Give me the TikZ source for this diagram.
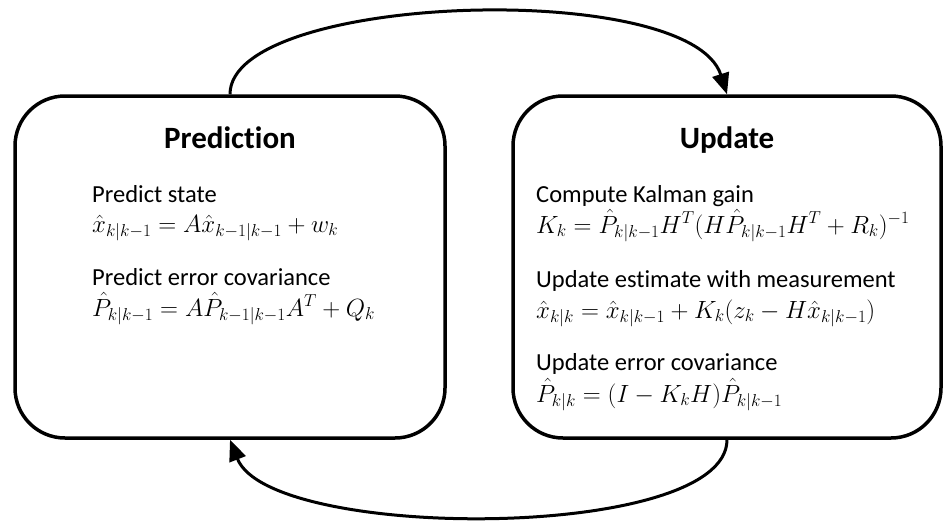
\documentclass[tikz,border=0pt]{standalone}
\usepackage{fontspec}
\setmainfont[Ligatures=NoCommon]{Carlito}
\usetikzlibrary{arrows.meta}
\begin{document}
\begin{tikzpicture}[x=1pt,y=-1pt,
  box/.style={draw, line width=3.5pt, rounded corners=50pt, minimum width=430pt, minimum height=342pt, inner sep=0pt},
  titletext/.style={font=\fontsize{31}{37}\selectfont\bfseries, anchor=base, inner sep=0pt},
  bodytext/.style={font=\fontsize{24.5}{29}\selectfont, anchor=base west, inner sep=0pt},
  mathtext/.style={font=\fontsize{24}{29}\selectfont, anchor=base west, inner sep=0pt},
  flow/.style={line width=3pt, -{Triangle[length=21pt,width=17pt]}}]
\useasboundingbox (0,0) rectangle (943,520);
\node[box] (pred) at (230,267) {};
\node[box, minimum width=428pt] (upd) at (727,267) {};
\node[titletext] (ptitle) at (230,148) {Prediction};
\node[titletext] (utitle) at (727,148) {Update};
\node[bodytext] (p1) at (92,202) {Predict state};
\node[mathtext] (p2) at (92,232) {$\hat{x}_{k|k-1} = A\hat{x}_{k-1|k-1} + w_k$};
\node[bodytext] (p3) at (92,285) {Predict error covariance};
\node[mathtext] (p4) at (92,316) {$\hat{P}_{k|k-1} = A\hat{P}_{k-1|k-1}A^T + Q_k$};
\node[bodytext] (u1) at (536,202) {Compute Kalman gain};
\node[mathtext] (u2) at (536,233) {$K_k = \hat{P}_{k|k-1}H^T(H\hat{P}_{k|k-1}H^T + R_k)^{-1}$};
\node[bodytext] (u3) at (536,287) {Update estimate with measurement};
\node[mathtext] (u4) at (536,318) {$\hat{x}_{k|k} = \hat{x}_{k|k-1} + K_k(z_k - H\hat{x}_{k|k-1})$};
\node[bodytext] (u5) at (536,370) {Update error covariance};
\node[mathtext] (u6) at (536,402) {$\hat{P}_{k|k} = (I - K_kH)\hat{P}_{k|k-1}$};
\draw[flow] (pred.north) .. controls +(0,-101) and +(-37,-116) .. (upd.north);
\draw[flow] (upd.south) .. controls +(0,102) and +(40,102) .. (pred.south);
\end{tikzpicture}
\end{document}
